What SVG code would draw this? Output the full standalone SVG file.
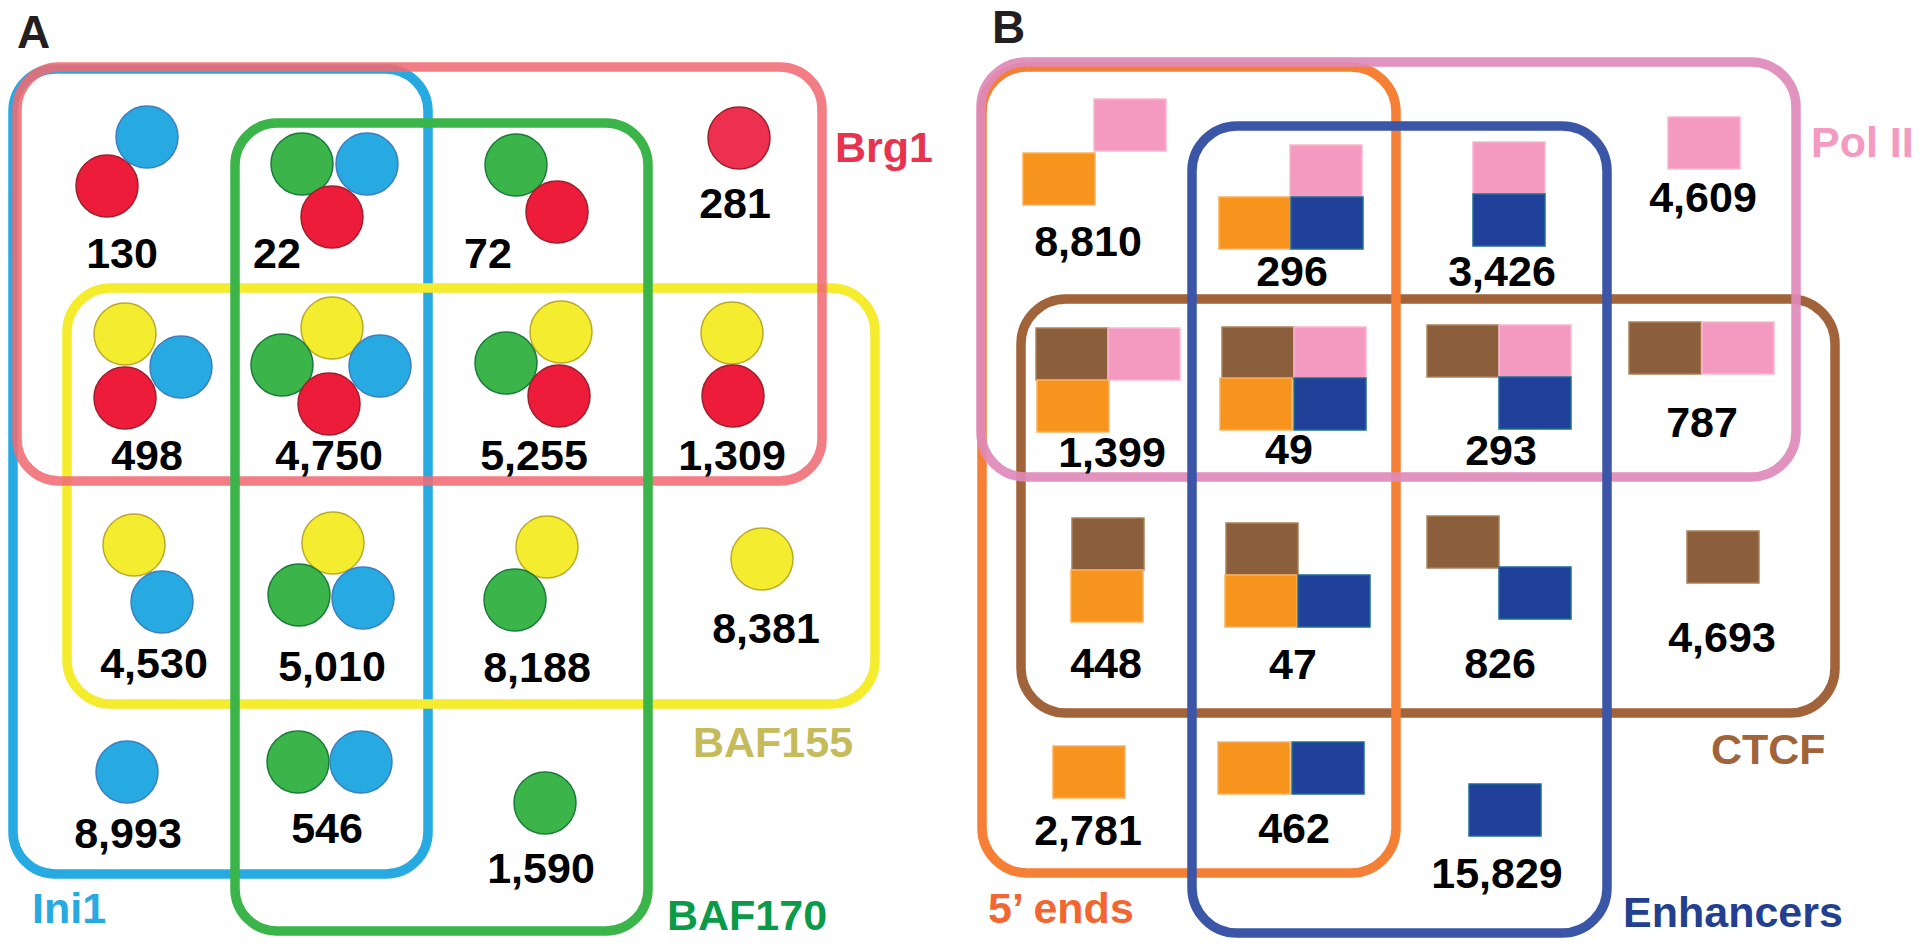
<svg xmlns="http://www.w3.org/2000/svg" width="1920" height="948" viewBox="0 0 1920 948">
<style>
text{font-family:"Liberation Sans",Arial,sans-serif;font-weight:bold}
.n{font-size:43px;fill:#000;text-anchor:middle}
.lab{font-size:43px}
.set{fill:none;stroke-width:9.5}
.R{fill:#ec1c3a;stroke:#9e1f2a;stroke-width:1.5}
.Bl{fill:#27a9e1;stroke:#3b7fc0;stroke-width:1.5}
.G{fill:#3bb44a;stroke:#197b3a;stroke-width:1.5}
.Y{fill:#f4ec2f;stroke:#bbaa2a;stroke-width:1.5}
.pk{fill:#f49ac1;stroke:#f8b8cf;stroke-width:1.5}
.or{fill:#f7941d;stroke:#f9b060;stroke-width:1.5}
.br{fill:#8b5e3c;stroke:#ab8258;stroke-width:1.5}
.nv{fill:#21409a;stroke:#1b6e96;stroke-width:1.5}
</style>
<defs>
<circle id="c" r="31"/>
<rect id="s" width="72" height="52"/>
</defs>
<rect width="1920" height="948" fill="#fff"/>
<text x="17" y="48" font-size="46" fill="#231f20">A</text>
<text x="992" y="43" font-size="46" fill="#231f20">B</text>
<g id="sets">
<rect id="set-ini1" class="set" x="13" y="69" width="415" height="805" rx="42" stroke="#27a9e1"/>
<rect id="set-baf155" class="set" x="67" y="288" width="808" height="416" rx="44" stroke="#f4ec2c"/>
<rect id="set-brg1" class="set" x="17" y="67" width="805" height="414" rx="42" stroke="#f06b73" stroke-opacity="0.88"/>
<rect id="set-baf170" class="set" x="235" y="123" width="413" height="808" rx="42" stroke="#3bb44a"/>
<rect id="set-ctcf" class="set" x="1021" y="299" width="814" height="414" rx="45" stroke="#a0633a"/>
<rect id="set-5ends" class="set" x="982" y="67" width="414" height="806" rx="45" stroke="#f47f35"/>
<rect id="set-polii" class="set" x="981" y="62" width="815" height="415" rx="45" stroke="#de89b8" stroke-opacity="0.92"/>
<rect id="set-enh" class="set" x="1192" y="126" width="415" height="807" rx="45" stroke="#3b56a6"/>
</g>
<g id="labels">
<text class="lab" x="835" y="162" fill="#e8334f">Brg1</text>
<text class="lab" x="693" y="757" fill="#c5bb5a">BAF155</text>
<text class="lab" x="667" y="930" fill="#0a9a48">BAF170</text>
<text class="lab" x="32" y="923" fill="#27a9e1">Ini1</text>
<text class="lab" x="1811" y="157" fill="#f49ac1">Pol II</text>
<text class="lab" x="1711" y="764" fill="#a0633a">CTCF</text>
<text class="lab" x="1623" y="927" fill="#22408f">Enhancers</text>
<text class="lab" x="988" y="923" fill="#f26631">5’ ends</text>
</g>
<g id="a130"><use href="#c" class="Bl" x="147" y="137"/><use href="#c" class="R" x="107" y="186"/><text class="n" x="122" y="268">130</text></g>
<g id="a22"><use href="#c" class="G" x="302" y="164"/><use href="#c" class="Bl" x="367" y="164"/><use href="#c" class="R" x="332" y="217"/><text class="n" x="277" y="268">22</text></g>
<g id="a72"><use href="#c" class="G" x="516" y="165"/><use href="#c" class="R" x="557" y="212"/><text class="n" x="488" y="268">72</text></g>
<g id="a281"><use href="#c" class="R" x="739" y="138" style="fill:#ee3050"/><text class="n" x="735" y="218">281</text></g>
<g id="a498"><use href="#c" class="Y" x="125" y="334"/><use href="#c" class="Bl" x="181" y="367"/><use href="#c" class="R" x="125" y="398"/><text class="n" x="147" y="470">498</text></g>
<g id="a4750"><use href="#c" class="Y" x="332" y="328"/><use href="#c" class="G" x="282" y="365"/><use href="#c" class="Bl" x="380" y="366"/><use href="#c" class="R" x="329" y="404"/><text class="n" x="329" y="470">4,750</text></g>
<g id="a5255"><use href="#c" class="Y" x="561" y="332"/><use href="#c" class="G" x="506" y="363"/><use href="#c" class="R" x="559" y="396"/><text class="n" x="534" y="470">5,255</text></g>
<g id="a1309"><use href="#c" class="Y" x="732" y="333"/><use href="#c" class="R" x="733" y="396"/><text class="n" x="732" y="470">1,309</text></g>
<g id="a4530"><use href="#c" class="Y" x="134" y="545"/><use href="#c" class="Bl" x="162" y="602"/><text class="n" x="154" y="678">4,530</text></g>
<g id="a5010"><use href="#c" class="Y" x="333" y="543"/><use href="#c" class="G" x="299" y="595"/><use href="#c" class="Bl" x="363" y="598"/><text class="n" x="332" y="681">5,010</text></g>
<g id="a8188"><use href="#c" class="Y" x="547" y="547"/><use href="#c" class="G" x="515" y="600"/><text class="n" x="537" y="682">8,188</text></g>
<g id="a8381"><use href="#c" class="Y" x="762" y="559"/><text class="n" x="766" y="643">8,381</text></g>
<g id="a8993"><use href="#c" class="Bl" x="127" y="772"/><text class="n" x="128" y="848">8,993</text></g>
<g id="a546"><use href="#c" class="G" x="298" y="762"/><use href="#c" class="Bl" x="361" y="762"/><text class="n" x="327" y="843">546</text></g>
<g id="a1590"><use href="#c" class="G" x="545" y="803"/><text class="n" x="541" y="883">1,590</text></g>
<g id="b8810"><use href="#s" class="pk" x="1094" y="99"/><use href="#s" class="or" x="1023" y="153"/><text class="n" x="1088" y="256">8,810</text></g>
<g id="b296"><use href="#s" class="pk" x="1290" y="145"/><use href="#s" class="or" x="1219" y="197"/><use href="#s" class="nv" x="1291" y="197"/><text class="n" x="1292" y="286">296</text></g>
<g id="b3426"><use href="#s" class="pk" x="1473" y="142"/><use href="#s" class="nv" x="1473" y="194"/><text class="n" x="1502" y="286">3,426</text></g>
<g id="b4609"><use href="#s" class="pk" x="1668" y="117"/><text class="n" x="1703" y="212">4,609</text></g>
<g id="b1399"><use href="#s" class="br" x="1036" y="328"/><use href="#s" class="pk" x="1108" y="328"/><use href="#s" class="or" x="1037" y="380"/><text class="n" x="1112" y="467">1,399</text></g>
<g id="b49"><use href="#s" class="br" x="1222" y="327"/><use href="#s" class="pk" x="1294" y="327"/><use href="#s" class="or" x="1220" y="378"/><use href="#s" class="nv" x="1294" y="378"/><text class="n" x="1289" y="464">49</text></g>
<g id="b293"><use href="#s" class="br" x="1427" y="325"/><use href="#s" class="pk" x="1499" y="325"/><use href="#s" class="nv" x="1499" y="377"/><text class="n" x="1501" y="465">293</text></g>
<g id="b787"><use href="#s" class="br" x="1629" y="322"/><use href="#s" class="pk" x="1702" y="322"/><text class="n" x="1702" y="437">787</text></g>
<g id="b448"><use href="#s" class="br" x="1072" y="518"/><use href="#s" class="or" x="1071" y="570"/><text class="n" x="1106" y="678">448</text></g>
<g id="b47"><use href="#s" class="br" x="1226" y="523"/><use href="#s" class="or" x="1225" y="575"/><use href="#s" class="nv" x="1298" y="575"/><text class="n" x="1293" y="679">47</text></g>
<g id="b826"><use href="#s" class="br" x="1427" y="516"/><use href="#s" class="nv" x="1499" y="567"/><text class="n" x="1500" y="678">826</text></g>
<g id="b4693"><use href="#s" class="br" x="1687" y="531"/><text class="n" x="1722" y="652">4,693</text></g>
<g id="b2781"><use href="#s" class="or" x="1053" y="746"/><text class="n" x="1088" y="845">2,781</text></g>
<g id="b462"><use href="#s" class="or" x="1218" y="742"/><use href="#s" class="nv" x="1292" y="742"/><text class="n" x="1294" y="843">462</text></g>
<g id="b15829"><use href="#s" class="nv" x="1469" y="784"/><text class="n" x="1497" y="888">15,829</text></g>
</svg>
